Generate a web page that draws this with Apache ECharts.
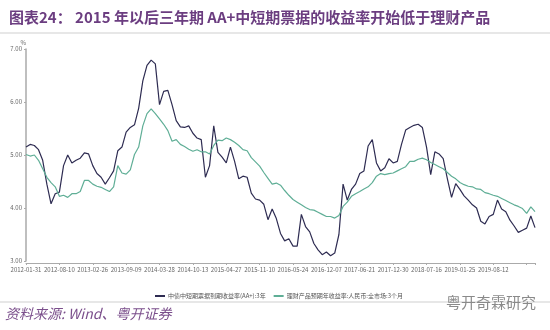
<!DOCTYPE html>
<html>
<head>
<meta charset="utf-8">
<script src="https://cdn.jsdelivr.net/npm/echarts@6/dist/echarts.min.js"></script>
<style>
  html, body { margin: 0; padding: 0; background: #fff; }
  #chart { width: 550px; height: 330px; }
</style>
</head>
<body>
<div id="chart"></div>
<script>
// tick labels shown on the x axis, one every STEP points
const tickLabels = [
  "2012-01-31", "2012-08-10", "2013-02-26", "2013-09-09", "2014-03-28",
  "2014-10-13", "2015-04-27", "2015-11-10", "2016-05-24", "2016-12-07",
  "2017-06-21", "2017-12-30", "2018-07-16", "2019-01-25", "2019-08-12",
];
const STEP = 8;

// 中债中短期票据到期收益率(AA+):3年
const rateAA = [
  5.15, 5.20, 5.18, 5.10, 4.90, 4.45, 4.08, 4.27, 4.30, 4.80,
  5.00, 4.85, 4.90, 4.94, 5.04, 5.02, 4.80, 4.65, 4.58, 4.45,
  4.57, 4.70, 5.08, 5.15, 5.43, 5.52, 5.57, 5.88, 6.40, 6.69,
  6.79, 6.72, 5.95, 6.20, 6.22, 5.95, 5.65, 5.53, 5.52, 5.55,
  5.41, 5.32, 5.29, 4.58, 4.80, 5.55, 5.05, 4.96, 4.85, 5.15,
  4.88, 4.55, 4.60, 4.58, 4.28, 4.17, 4.15, 4.07, 3.78, 3.98,
  3.80, 3.52, 3.38, 3.42, 3.28, 3.28, 3.88, 3.65, 3.55, 3.33,
  3.21, 3.12, 3.17, 3.10, 3.15, 3.50, 4.45, 4.15, 4.35, 4.45,
  4.65, 4.70, 5.17, 5.29, 4.85, 4.70, 4.76, 4.93, 4.85, 4.88,
  5.20, 5.47, 5.52, 5.56, 5.58, 5.52, 5.15, 4.63, 5.06, 5.02,
  4.93, 4.55, 4.20, 4.46, 4.35, 4.23, 4.15, 4.06, 4.00, 3.75,
  3.70, 3.84, 3.88, 4.15, 3.98, 3.93, 3.77, 3.66, 3.54, 3.58,
  3.62, 3.85, 3.63,
];

// 理财产品预期年收益率:人民币:全市场:3个月
const rateWealth = [
  5.01, 4.98, 5.00, 4.90, 4.74, 4.58, 4.48, 4.40, 4.22, 4.24,
  4.20, 4.27, 4.27, 4.31, 4.52, 4.52, 4.45, 4.41, 4.39, 4.35,
  4.31, 4.40, 4.80, 4.66, 4.64, 4.72, 5.01, 5.15, 5.55, 5.78,
  5.87, 5.78, 5.68, 5.58, 5.46, 5.26, 5.29, 5.20, 5.16, 5.11,
  5.07, 5.10, 5.06, 5.06, 5.02, 5.18, 5.28, 5.27, 5.32, 5.29,
  5.24, 5.18, 5.10, 5.08, 4.95, 4.87, 4.79, 4.67, 4.56, 4.45,
  4.47, 4.43, 4.33, 4.24, 4.16, 4.11, 4.06, 4.01, 3.97, 3.96,
  3.92, 3.88, 3.84, 3.84, 3.81, 3.86, 4.03, 4.11, 4.22, 4.27,
  4.31, 4.36, 4.40, 4.48, 4.60, 4.65, 4.63, 4.65, 4.66, 4.70,
  4.74, 4.78, 4.88, 4.88, 4.92, 4.94, 4.91, 4.86, 4.82, 4.78,
  4.74, 4.67, 4.60, 4.55, 4.48, 4.44, 4.41, 4.40, 4.36, 4.35,
  4.29, 4.27, 4.24, 4.22, 4.18, 4.14, 4.10, 4.06, 4.03, 3.99,
  3.90, 4.02, 3.93,
];

const seriesNames = [
  "中债中短期票据到期收益率(AA+):3年",
  "理财产品预期年收益率:人民币:全市场:3个月",
];

// category axis: label only at every STEP-th point
const categories = rateAA.map((_, i) =>
  i % STEP === 0 && tickLabels[i / STEP] ? tickLabels[i / STEP] : ""
);

const chart = echarts.init(document.getElementById("chart"));
const font = "'Noto Sans CJK SC', 'Noto Sans', sans-serif";

chart.setOption({
  animation: false,
  textStyle: { fontFamily: font },
  title: {
    text: "图表24： 2015 年以后三年期 AA+中短期票据的收益率开始低于理财产品",
    left: 4,
    top: 5,
    textStyle: { fontSize: 15, fontWeight: "bold", color: "#6b3d80", fontFamily: font },
  },
  grid: { left: 26, right: 15, top: 49, bottom: 69 },
  legend: {
    left: 150,
    top: 288,
    itemWidth: 10,
    itemHeight: 2,
    itemGap: 8,
    icon: "rect",
    textStyle: { fontSize: 6, color: "#555", padding: [0, 0, 0, -2] },
    data: seriesNames,
  },
  xAxis: {
    type: "category",
    data: categories,
    boundaryGap: false,
    offset: 2,
    axisLine: { lineStyle: { color: "#aaa", width: 1 } },
    axisTick: { interval: STEP - 1, length: 2, lineStyle: { color: "#aaa" } },
    axisLabel: { interval: 0, fontSize: 6, color: "#666", margin: 4 },
  },
  yAxis: {
    type: "value",
    min: 3,
    max: 7,
    interval: 1,
    name: "%",
    nameLocation: "end",
    nameGap: 3,
    nameTextStyle: { fontSize: 6, color: "#666", align: "right" },
    splitLine: { show: false },
    axisLine: { show: true, lineStyle: { color: "#aaa", width: 1.5 } },
    axisTick: { show: true, length: 2, lineStyle: { color: "#aaa" } },
    axisLabel: {
      fontSize: 6,
      color: "#666",
      margin: 4,
      formatter: (v) => v.toFixed(2),
    },
  },
  series: [
    {
      name: seriesNames[0],
      type: "line",
      data: rateAA,
      symbol: "none",
      color: "#2e2c52",
      lineStyle: { width: 1.2, color: "#2e2c52" },
    },
    {
      name: seriesNames[1],
      type: "line",
      data: rateWealth,
      symbol: "none",
      color: "#5fae96",
      lineStyle: { width: 1.2, color: "#5fae96" },
    },
  ],
  graphic: [
    {
      type: "line",
      shape: { x1: 0, y1: 33, x2: 550, y2: 33 },
      style: { stroke: "#cfcfcf", lineWidth: 1 },
    },
    {
      type: "line",
      shape: { x1: 0, y1: 302, x2: 550, y2: 302 },
      style: { stroke: "#cfcfcf", lineWidth: 1 },
    },
    {
      type: "text",
      left: 5,
      top: 307,
      style: {
        text: "资料来源: Wind、粤开证券",
        fontSize: 14,
        fontStyle: "italic",
        fill: "#7b4f8c",
        fontFamily: font,
      },
    },
    {
      type: "text",
      left: 446,
      top: 295,
      style: {
        text: "粤开奇霖研究",
        fontSize: 15,
        fill: "#8a8a8a",
        fontFamily: font,
      },
    },
  ],
});
</script>
</body>
</html>
